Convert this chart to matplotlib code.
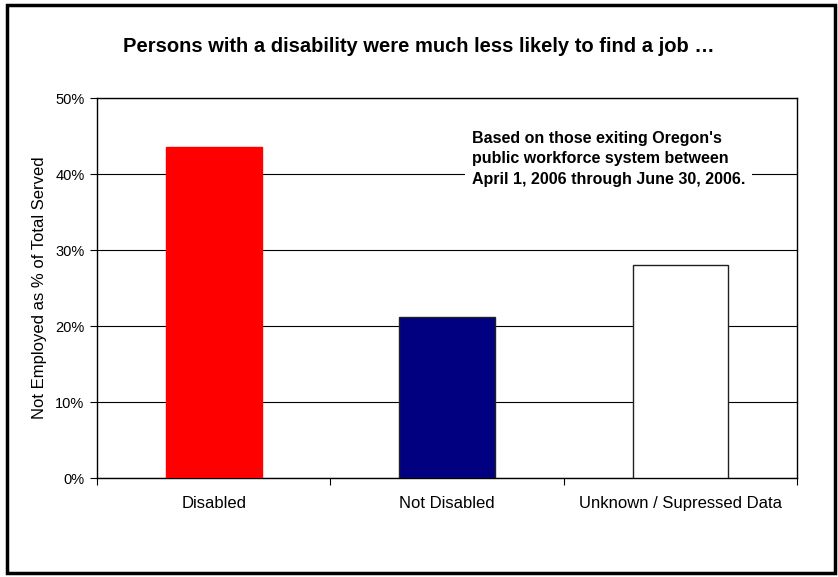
import numpy as np
import matplotlib
matplotlib.use("Agg")
from matplotlib import pyplot as plt
from matplotlib.patches import Rectangle

plt.rcParams['font.family'] = ['Liberation Sans', 'DejaVu Sans']

# data
categories = ['Disabled', 'Not Disabled', 'Unknown / Supressed Data']
values = [43.5, 21.2, 28.0]
bar_colors = ['#FF0000', '#000080', '#FFFFFF']
edge_colors = ['#FF0000', '#202020', '#202020']
yticks = [0, 10, 20, 30, 40, 50]

fig = plt.figure(figsize=(8.38, 5.77), dpi=100)
ax = fig.add_axes([97/838, 1-478/577, 700/838, 380/577])

x = np.arange(len(categories))
ax.bar(x, values, width=0.41, color=bar_colors, edgecolor=edge_colors, linewidth=1, zorder=3)

ax.set_xlim(-0.5, 2.5)
ax.set_ylim(0, 50)
ax.set_yticks(yticks)
ax.set_yticklabels(['%d%%' % v for v in yticks], fontsize=10.5)
ax.yaxis.grid(True, color='black', linewidth=0.8, zorder=0)

# ticks between categories, labels centered
ax.set_xticks([-0.5, 0.5, 1.5, 2.5])
ax.set_xticklabels([])
ax.set_xticks(x, minor=True)
ax.set_xticklabels(categories, minor=True, fontsize=12)
ax.tick_params(axis='x', which='minor', length=0, pad=13)
ax.tick_params(axis='x', which='major', direction='out', length=5, width=0.8)
ax.tick_params(axis='y', direction='out', length=5, width=0.8, pad=4)

for s in ax.spines.values():
    s.set_color('black')
    s.set_linewidth(1)

ax.set_ylabel('Not Employed as % of Total Served', fontsize=12, labelpad=6)

ax.text(0.535, 0.912, "Based on those exiting Oregon's\npublic workforce system between\nApril 1, 2006 through June 30, 2006.",
        transform=ax.transAxes, fontsize=11.5, fontweight='bold', va='top', ha='left', linespacing=1.42,
        zorder=5, bbox=dict(facecolor='white', edgecolor='none', pad=5))

fig.text(0.5, 1-47/577, 'Persons with a disability were much less likely to find a job \u2026',
         fontsize=14.5, fontweight='bold', ha='center', va='center')

# outer border of the chart
fig.patches.append(Rectangle((7/838, 4/577), 828/838, 568/577, transform=fig.transFigure,
                             fill=False, edgecolor='black', linewidth=2.5))

fig.savefig('out.png', dpi=100)
